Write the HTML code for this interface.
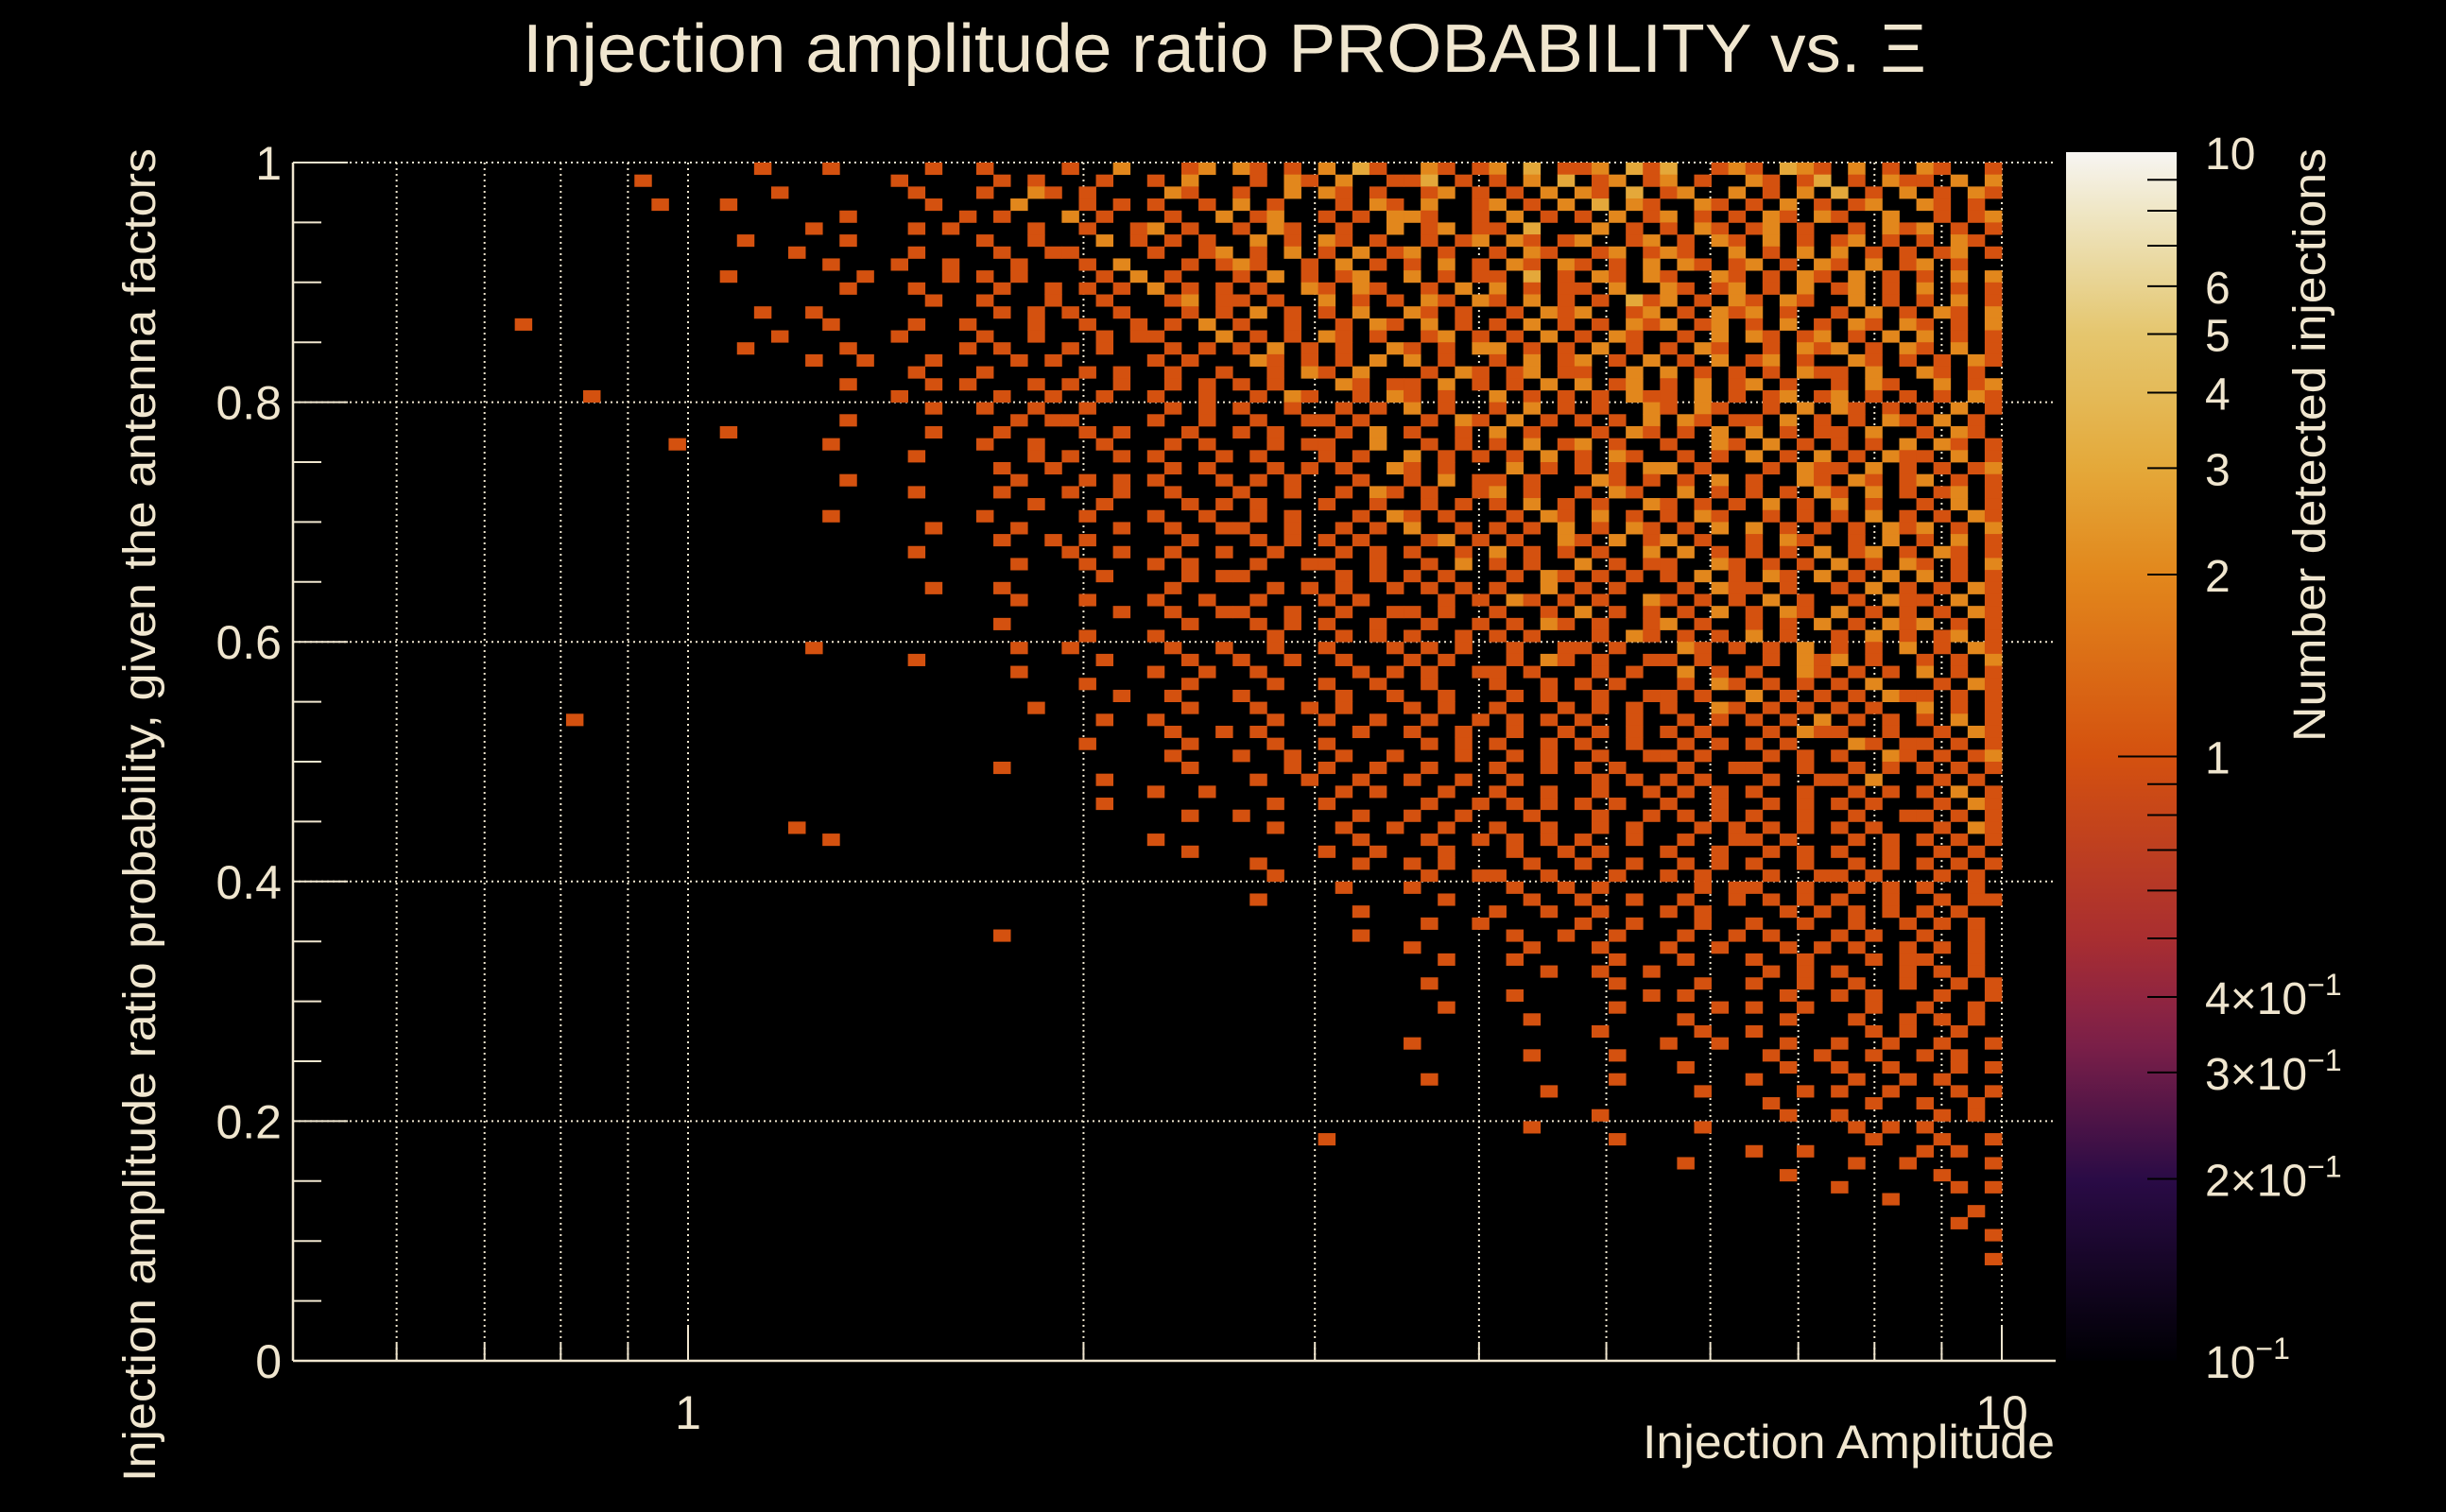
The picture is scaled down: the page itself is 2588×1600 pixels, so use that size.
<!DOCTYPE html>
<html><head><meta charset="utf-8"><title>Injection amplitude ratio PROBABILITY vs. Ξ</title>
<style>
html,body{margin:0;padding:0;background:#000;}
svg{display:block;}
text{font-family:"Liberation Sans",sans-serif;fill:#f0e6cf;}
</style></head>
<body>
<svg id="chart" width="2588" height="1600" viewBox="0 0 2588 1600" xmlns="http://www.w3.org/2000/svg">
<defs>
<linearGradient id="cbgrad" x1="0" y1="1" x2="0" y2="0">
<stop offset="0" stop-color="#000004"/>
<stop offset="0.15" stop-color="#2a0b46"/>
<stop offset="0.26" stop-color="#7a1f48"/>
<stop offset="0.30" stop-color="#902540"/>
<stop offset="0.35" stop-color="#a92e30"/>
<stop offset="0.5" stop-color="#d4510f"/>
<stop offset="0.65" stop-color="#e2871c"/>
<stop offset="0.74" stop-color="#e4a93a"/>
<stop offset="0.80" stop-color="#e4ba58"/>
<stop offset="0.85" stop-color="#e5c66e"/>
<stop offset="0.89" stop-color="#e8d391"/>
<stop offset="0.95" stop-color="#efe6c4"/>
<stop offset="1" stop-color="#f7f5f2"/>
</linearGradient>
</defs>
<text x="553" y="76" font-size="72" textLength="1485" lengthAdjust="spacingAndGlyphs">Injection amplitude ratio PROBABILITY vs.  Ξ</text>
<g id="grid"></g>
<g id="cells"></g>
<g id="axes"></g>
<g id="colorbar"></g>
<text x="2174" y="1543" font-size="50" text-anchor="end" textLength="436" lengthAdjust="spacingAndGlyphs">Injection Amplitude</text>
<text transform="translate(164,157) rotate(-90)" font-size="48" text-anchor="end" textLength="1411" lengthAdjust="spacingAndGlyphs">Injection amplitude ratio probability, given the antenna factors</text>
<text transform="translate(2460,157) rotate(-90)" font-size="48" text-anchor="end" textLength="628" lengthAdjust="spacingAndGlyphs">Number detected injections</text>
</svg>
<script>
// ---- data ----
const xMin = 0.5, xMax = 10, nX = 100;
const yMin = 0, yMax = 1, nY = 100;
const xTickValues = [1, 10];
const xTickLabels = ["1", "10"];
const xMinorValues = [0.6, 0.7, 0.8, 0.9, 2, 3, 4, 5, 6, 7, 8, 9];
const yTickValues = [0, 0.2, 0.4, 0.6, 0.8, 1];
const yTickLabels = ["0", "0.2", "0.4", "0.6", "0.8", "1"];
const cbTickValues = [0.1, 0.2, 0.3, 0.4, 1, 2, 3, 4, 5, 6, 10];
const cbTickLabels = ["10", "2\u00d710", "3\u00d710", "4\u00d710", "1", "2", "3", "4", "5", "6", "10"];
const cbMinorValues = [0.2,0.3,0.4,0.5,0.6,0.7,0.8,0.9,2,3,4,5,6,7,8,9];
// counts per bin, row 0 = top (y 0.99-1.00), column 0 = x 0.5
const countRows = [
"..... ..... ..... ..... ..... ..1.. .1... ..1.. 1.... 1..2. ..12. 21.1. 2.31. .21.1 2.3.1 12.31 3..12 1.321 .2.1. 21..1",
"..... ..... ..... ..... 1.... ..... ..... 1.... .1.1. ..1.. 1.2.. .1.21 .2..1 13.1. 1.2.3 .12.1 2.1.. 21.13 .1.21 1.2.2",
"..... ..... ..... ..... ..... ...1. ..... .1... 1..21 .1... .21.. 1..2. 21.1. .12.1 .1.2. 21.3. 12..2 .1.2. 3.1.2 .1.21",
"..... ..... ..... ..... .1... 1.... ..... ..1.. ..2.. .1.1. 1..1. 2.1.. .1.21 .2..1 2.1.2 .3.21 ..21. 1.2.1 .12.. 21.1.",
"..... ..... ..... ..... ..... ..... ..1.. ....1 .1... 2.1.. .1..2 .12.. 1.1.2 21..1 .2.1. 1.2.1 2.1.1 .21.2 1..2. .1.12",
"..... ..... ..... ..... ..... ..... 1.... .1.1. ...1. .1..1 2.1.. 1.21. .1..2 .12.1 1.3.. .2.1. 1.21. 12.1. .1.21 2.1.1",
"..... ..... ..... ..... ..... .1... ..1.. ..... 1..1. ..2.1 .1.1. .2.1. 21.1. .1.12 .21.1 2..12 .1.21 .2.1. 12.1. 1.21.",
"..... ..... ..... ..... ..... ....1 ..... .1... .1..1 1.... 1..12 .1.2. 1.2.1 2.1.. 1.21. .12.1 21..2 .1.2. 2.1.1 .12.1",
"..... ..... ..... ..... ..... ..... .1... 1..1. ..1.. .1.2. ..1.1 21..1 .2.1. 1.2.1 .21.2 1.1.2 .21.1 2.1.2 1.2.1 2.1..",
"..... ..... ..... ..... ..... 1.... ...1. ...1. 1.1.. ..1.2 .1... 1.2.1 .12.. 2.1.1 1.3.1 .21.2 1..21 .1.21 .2.1. 1.2.2",
"..... ..... ..... ..... ..... ..... ..1.. .1... .1..1 .1.1. 2.1.1 .1..2 1.21. .1.2. 2.1.1 1.2.. 21.12 .1.2. 12.1. 2.1.1",
"..... ..... ..... ..... ..... ..... ..... ..1.. 1...1 ..1.. .12.1 1.1.. 2.1.1 .21.2 1.2.1 .1.31 2.1.2 1.21. .2.1. 1.2.1",
"..... ..... ..... ..... ..... ..1.. 1.... ..... .1.1. 1..1. ..1.1 .2.1. 1.2.. 21.1. .1.21 2..12 .1.21 2.1.. 1.2.1 .21.2",
"..... ..... ...1. ..... ..... ..... .1... .1..1 ...1. .1..1 .1.2. 1..1. .1.21 .2.1. 1.2.1 .1.21 2.12. 1.2.1 .21.2 1.1.2",
"..... ..... ..... ..... ..... ...1. ..... 1.... 1..1. ..1.1 1...2 .1.1. 21.1. .12.1 .1.2. 1.21. .1.2. 21.12 .1.2. 2.1.1",
"..... ..... ..... ..... ..... .1... ..1.. ....1 .1... 1.1.. .1.1. 1.2.1 .1..2 1.1.2 2.1.1 .2.1. 1.21. .1.21 2.1.2 1.2.1",
"..... ..... ..... ..... ..... ..... 1..1. ..1.. ..1.1 ..... 1.1.. .21.1 .1.2. 2.1.. 1.2.1 2.1.2 .1.2. 12.1. .21.1 .1.21",
"..... ..... ..... ..... ..... ..... ..... .1... 1.... .1.1. .1..1 ..1.2 1.2.. .1.21 .12.1 1..2. 2.1.1 .1.21 1.2.. 21.1.",
"..... ..... ..... ..... ..... ..... ..1.. ..1.1 ...1. 1..1. .1.1. 1.1.. .21.1 1.2.1 .1.2. 2.12. 1.2.1 2.1.. 1.21. .2.12",
"..... ..... ..... ..1.. ..... ..... ..... 1.... .1..1 ..1.. 1..1. .1.21 ..1.2 1.1.. 2.1.1 .1.21 1.2.1 .12.1 2.1.1 .1.21",
"..... ..... ..... ..... ..... ..... ..... ..1.. 1..1. .1... .1.1. 1..1. .1.1. 2.1.. 1.2.1 .1..2 1.21. .1.2. 21.1. 1.2.1",
"..... ..... ..... ..... ..... ..... ..1.. ..... ..1.1 1.... 1..1. .1..1 1.1.. .1.21 .2.1. 1.1.2 .21.1 1.2.1 .1.21 .2.1.",
"..... ..... ..... ..... ..... 1.... ..... ..1.. .1... .1.1. ..1.. 1.1.. .1.2. 1..1. 2.1.. .1.21 .1.2. 2.1.1 1.2.. 1.21.",
"..... ..... ..... ..... ..1.. ..... .1... ..... 1..1. ..1.. .1.1. ..1.1 1..2. .1.1. 1.2.1 2.1.. 1..21 .2.1. 1.1.2 .21.1",
"..... ..... ..... ..... ..... ..... ..... .1... ...1. 1..1. 1...1 .1... 1.1.. 2.1.1 .1.2. 1.21. .1.1. 2.1.2 .1.21 1.2.1",
"..... ..... ..... ..... ..... ..... ..... ..... .1..1 ..... .1.1. ..1.1 .1..2 1.1.. .2.1. 1.1.2 2.1.. .1.21 1.2.1 .1.12",
"..... ..... ..... ..... ..... ..... ..1.. ..... ..1.. .1.1. 1...1 .1.1. ..1.. 1.2.1 1.1.. .21.1 .1.2. 1..21 .21.1 2.1.1",
"..... ..... ..... ..... ..... ..... ..... .1... .1... 1..1. .1... 1..1. .1.21 .1..1 2.1.. 1.21. .2.1. 1.1.2 1.2.1 .12.1",
"..... ..... ..... ..... ..... ..... ..... ..... ...1. ..1.. ..1.1 .1... 1..1. .1.1. 1.2.1 .1..2 1.1.1 .2.1. 2.1.. 1.2.1",
"..... ..... ..... ..... ..... ..... .1... ..... 1.... .1... 1..1. .1.1. ..1.2 1.1.. .1.21 .2.1. 1.21. .1.1. 1.2.1 .1.21",
"..... ..... ..... ..... ..... ..... ..... ..1.. ..1.. ...1. .1..1 1..1. .1.1. 2..1. 1.1.2 .1.21 .1.2. 2.1.1 .1.21 2.1.2",
"..... ..... ..... ..... ..... ..... ..... ..... .1..1 .1... ..1.. .1.1. 1.1.. .12.1 .1..2 1.2.1 2.1.. 1.21. .1.2. 1.2.1",
"..... ..... ..... ..... ..... ..... ..... .1... ..... 1..1. .1..1 ..1.. .1.1. 1..1. 2.1.1 .1..2 .2.1. 1.1.2 .12.1 .21.1",
"..... ..... ..... ..... ..... ..... ..... ..... ..1.. .1... 1.1.. .1..1 1..1. .1.2. 1.1.. 2.1.1 1..21 .1.1. 2.1.2 1.1.2",
"..... ..... ..... ..... ..... ..... ..... ..... ..... ..1.. ..1.1 1.... .1.1. 1.1.. .1.21 .1.1. 1.2.1 .21.2 .1.2. 2.1.1",
"..... ..... ..... ..... ..... ..... ..... ..1.. .1... ..... .1... ..1.1 .1..1 .1.1. 1..2. 1.1.. .1.21 1.1.. 1.2.1 .1.21",
"..... ..... ..... ..... ..... ..... ..... ..... ..1.. .1... 1..1. .1... 1.1.. ..1.1 .21.1 .1..2 1.1.1 .2.1. .1.21 1.2.1",
"..... ..... ..... ..... ..... ..... ..... ..... ..... ...1. .1..1 1..1. .1..1 1.1.. 1..1. 2.1.1 .1.2. 1.21. 2.1.1 .1.21",
"..... ..... ..... ..... ..... ..... ..... ..... .1... ..... ..1.. .1.1. 1..1. .1..1 .1.21 .1..1 2.1.. 1.1.2 .1.21 2.1.1",
"..... ..... ..... ..... ..... ..... ..... ..... ..... .1... 1.... ..1.. .1.1. 1..1. 1.1.. .1.21 .1.1. 2.1.. 1.2.1 .12.1",
"..... ..... ..... ..... ..... ..... 1.... ..... ..1.. 1.... .1..1 ..1.. 1...1 .1.1. .1..1 1.1.. .21.1 .1.2. 1.1.2 .1.21",
"..... ..... ..... ..... ..... ..... ..... .1... ..... ..1.. ..1.. 1..1. .1... 1.1.. .1.21 .1..1 1.1.. .1.21 2.1.. 1.1.2",
"..... ..... ..... ..... ..... ..... ..... ..... ..1.. ..... 1..1. .1... ..1.1 .1..1 1.1.. .1.1. .2.1. 1..21 .1.1. 2.1.1",
"..... ..... ..... ..... ..... ..... ..... ..... ..... .1... ..1.. ..1.. 1..1. .1... 1..1. 1.1.. .1.21 .1.1. 1.2.. .1.21",
"..... ..... ..... ..... ..... ..... ..... ..... ..... ...1. .1... 1.... .1..1 ..1.. .1.1. .1..1 1.1.. 2.1.1 .1.21 1.1.1",
"..... ..... ..... ..... ..... ..... ..... ..... ...1. ..... ..1.. .1..1 .1... 1.1.. 1...1 .1.1. 1..21 .1.1. 1.1.. 2.1.1",
"..... ..... ..... .1... ..... ..... ..... ..... ..... ..1.. 1.... ..1.. 1..1. .1..1 .1.1. 1..1. .1.1. 1.1.2 .1.1. 1.2.1",
"..... ..... ..... ..... ..... ..... ..... ..... ..... ..... .1..1 .1... ..1.. 1..1. .1..1 .1.1. 1.1.. .1.21 1..1. .1.21",
"..... ..... ..... ..... ..... ..... ..... ..... ..... .1... ..1.. ..1.. 1.... .1.1. 1..1. 1..1. .1.1. 1.1.. .21.1 1.1.1",
"..... ..... ..... ..... ..... ..... ..... ..... ..... ..... .1... 1..1. .1..1 ...1. .1.1. .1..1 1.1.. .1.1. 1..21 .1.12",
"..... ..... ..... ..... ..... ..... ..... ..... .1... ..... ..1.. ...1. 1..1. .1... 1..1. 1.1.. .1..1 1..1. .1.1. 1.1.1",
"..... ..... ..... ..... ..... ..... ..... ..... ..... ..1.. ..... .1..1 ..1.. 1..1. .1... .1.1. 1.1.. .1..1 1.2.. .1.1.",
"..... ..... ..... ..... ..... ..... ..... ..... ..... ..... 1..1. ..... .1.1. ..1.. 1..1. .1..1 .1.1. 1..1. .1.1. 1.2.1",
"..... ..... ..... ..... ..... ..... ..... ..... ..... ..1.. ..... ..1.. 1.... .1..1 .1.1. 1.1.. 1..1. .1.1. 1.1.. .1.21",
"..... ..... ..... ..... ..... ..... ..... ..... ..... ..... ..1.. 1.... ..1.. 1..1. ..1.. .1..1 .1.1. 1..1. .1..1 1.1.1",
"..... ..... ..... ..... ..... ....1 ..... ..... ..... ..... ..... ..1.. .1..1 ..1.. 1..1. .1.1. ..1.1 .1.1. 1.1.. .1.21",
"..... ..... ..... ..... ..... ..... .1... ..... ..... ..... 1.... ..... ..1.. .1..1 .1.1. 1..1. .1..1 1.1.. .1.1. 1.1.1",
"..... ..... ..... ..... ..... ..... ..... ..... ..... ..... ..1.. ..... 1..1. ..1.. .1..1 .1... 1..1. .1.1. 1..1. .1.1.",
"..... ..... ..... ..... ..... ..... ..... ..... ..... ..... ..... .1... ..1.. 1.1.. ..1.. 1..1. .1.1. 1..1. .1.1. 1.1.1",
"..... ..... ..... ..... ..... ..... ..... ..... ..... ..... ..... ..1.. ..... .1..1 1..1. ..1.. 1.1.. .1..1 1.1.. .1.1.",
"..... ..... ..... ..... ..... ..... ..... ..... ..... ..... ..... ..... .1... 1.... .1..1 .1... ..1.1 1..1. .1.1. 1..1.",
"..... ..... ..... ..... ..... ..... ..... ..... ..... ..... ..... .1... ..... ..1.. ..1.. 1..1. .1..1 .1.1. 1..1. .1.11",
"..... ..... ..... ..... ..... ..... ..... ..... ..... ..... ..... ..... ..1.. ..... 1..1. .1... 1.1.. ..1.1 .1.1. 1.1..",
"..... ..... ..... ..... ..... ..... ..... ..... ..... ..... ..... ..... ..... .1..1 ..... 1..1. ..1.. 1..1. .1..1 .1.1.",
"..... ..... ..... ..... ..... ..... ..... ..... .1... ..... ..... ..... ..1.. ..... .1..1 ..1.. .1..1 .1... 1.1.. 1..1.",
"..... ..... ..... ..... ..... ..... ..... ..... ..... ..... ..... ..... ..... 1.... ..1.. .1... 1..1. ..1.1 .1..1 .1.1.",
"..... ..... ..... ..... ..... ..... ..... ..... ..... ..... ..... ..... ..... ..1.. .1... ..1.. .1... 1..1. ..1.1 1..1.",
"..... ..... ..... ..... ..... ..... ..... ..... ..... ..... ..... ..... ..... ..... ...1. .1..1 ..... .1.1. 1...1 .1.1.",
"..... ..... ..... ..... ..... ..... ..... ..... ..... ..... ..... ..... ..... .1... ..... ..1.. ..1.. 1..1. .1..1 ..1.1",
"..... ..... ..... ..... ..... ..... ..... ..... ..... ..... ..... ..... ..... ..... .1... ....1 .1... ..1.. 1.1.. .1..1",
"..... ..... ..... ..... ..... ..... ..... ..... ..... ..... ..... ..... ..... ..1.. ..... ..1.. ...1. 1..1. ..1.. 1..1.",
"..... ..... ..... ..... ..... ..... ..... ..... ..... ..... ..... ..... ..... ..... ..1.. ..... .1... ..1.. .1..1 .1.1.",
"..... ..... ..... ..... ..... ..... ..... ..... ..... ..... ..... ..... ..... ..... ..... .1... ..1.. 1.... ..1.1 ..1..",
"..... ..... ..... ..... ..... ..... ..... ..... ..... ..... ..... ..... ..... 1.... ..... ..... 1..1. ..1.. 1..1. .1..1",
"..... ..... ..... ..... ..... ..... ..... ..... ..... ..... ..... ..... ..... ..... ..1.. ..1.. ..... .1..1 ..1.. 1.1..",
"..... ..... ..... ..... ..... ..... ..... ..... ..... ..... ..... ..... ..... ..... ..... ..... .1... ..1.. 1..1. ..1.1",
"..... ..... ..... ..... ..... ..... ..... ..... ..... ..... ..... ..... ..... .1... ..... ..1.. ..... 1.... .1..1 .1...",
"..... ..... ..... ..... ..... ..... ..... ..... ..... ..... ..... ..... ..... ..... ...1. ..... ..1.. ...1. 1..1. ..1.1",
"..... ..... ..... ..... ..... ..... ..... ..... ..... ..... ..... ..... ..... ..... ..... ..... ..... .1... ..1.. 1..1.",
"..... ..... ..... ..... ..... ..... ..... ..... ..... ..... ..... ..... ..... ..... ..... .1... ..... ..1.. 1.... .1.1.",
"..... ..... ..... ..... ..... ..... ..... ..... ..... ..... ..... ..... ..... ..... ..1.. ..... ..1.. ..... .1.1. 1....",
"..... ..... ..... ..... ..... ..... ..... ..... ..... ..... ..... ..... 1.... ..... ..... ..1.. ..... ..... ..1.. .1..1",
"..... ..... ..... ..... ..... ..... ..... ..... ..... ..... ..... ..... ..... ..... ..... ..... ..... 1..1. ..... 1.1..",
"..... ..... ..... ..... ..... ..... ..... ..... ..... ..... ..... ..... ..... ..... ..... ..... .1... ..... .1..1 ....1",
"..... ..... ..... ..... ..... ..... ..... ..... ..... ..... ..... ..... ..... ..... ..... ..... ..... ..1.. ..... .1...",
"..... ..... ..... ..... ..... ..... ..... ..... ..... ..... ..... ..... ..... ..... ..... ..... ..... ..... 1.... ..1.1",
"..... ..... ..... ..... ..... ..... ..... ..... ..... ..... ..... ..... ..... ..... ..... ..... ..... ..... ...1. .....",
"..... ..... ..... ..... ..... ..... ..... ..... ..... ..... ..... ..... ..... ..... ..... ..... ..... ..... ..... ...1.",
"..... ..... ..... ..... ..... ..... ..... ..... ..... ..... ..... ..... ..... ..... ..... ..... ..... ..... ..... ..1..",
"..... ..... ..... ..... ..... ..... ..... ..... ..... ..... ..... ..... ..... ..... ..... ..... ..... ..... ..... ....1",
"..... ..... ..... ..... ..... ..... ..... ..... ..... ..... ..... ..... ..... ..... ..... ..... ..... ..... ..... .....",
"..... ..... ..... ..... ..... ..... ..... ..... ..... ..... ..... ..... ..... ..... ..... ..... ..... ..... ..... ....1",
"..... ..... ..... ..... ..... ..... ..... ..... ..... ..... ..... ..... ..... ..... ..... ..... ..... ..... ..... .....",
"..... ..... ..... ..... ..... ..... ..... ..... ..... ..... ..... ..... ..... ..... ..... ..... ..... ..... ..... .....",
"..... ..... ..... ..... ..... ..... ..... ..... ..... ..... ..... ..... ..... ..... ..... ..... ..... ..... ..... .....",
"..... ..... ..... ..... ..... ..... ..... ..... ..... ..... ..... ..... ..... ..... ..... ..... ..... ..... ..... .....",
"..... ..... ..... ..... ..... ..... ..... ..... ..... ..... ..... ..... ..... ..... ..... ..... ..... ..... ..... .....",
"..... ..... ..... ..... ..... ..... ..... ..... ..... ..... ..... ..... ..... ..... ..... ..... ..... ..... ..... .....",
"..... ..... ..... ..... ..... ..... ..... ..... ..... ..... ..... ..... ..... ..... ..... ..... ..... ..... ..... .....",
"..... ..... ..... ..... ..... ..... ..... ..... ..... ..... ..... ..... ..... ..... ..... ..... ..... ..... ..... ....."
];

// ---- axis functions ----
const NS = "http://www.w3.org/2000/svg";
const plotL = 310, plotR = 2175, plotT = 172, plotB = 1440;
const decadePx = 1390, xOne = 728;
function xScale(v){ return xOne + decadePx * Math.log10(v); }
function yScale(v){ return plotB - (plotB - plotT) * (v - yMin) / (yMax - yMin); }
const cbL = 2186, cbR = 2303, cbT = 161, cbB = 1440;
function cbScale(v){ return cbB - (cbB - cbT) * (Math.log10(v) + 1) / 2; }
const stops = [[0,[0,0,4]],[0.15,[42,11,70]],[0.26,[122,31,72]],[0.30,[144,37,64]],[0.35,[169,46,48]],[0.5,[212,81,15]],[0.65,[226,135,28]],[0.74,[228,169,58]],[0.80,[228,186,88]],[0.85,[229,198,110]],[0.89,[232,211,145]],[0.95,[239,230,196]],[1,[247,245,242]]];
function colorFor(v){
  let t = (Math.log10(v) + 1) / 2; t = Math.max(0, Math.min(1, t));
  for (let i = 1; i < stops.length; i++){
    if (t <= stops[i][0]){
      const a = stops[i-1], b = stops[i], f = (t - a[0]) / (b[0] - a[0]);
      const c = a[1].map((x, k) => Math.round(x + (b[1][k] - x) * f));
      return "rgb(" + c.join(",") + ")";
    }
  }
  return "rgb(247,245,242)";
}
function mk(tag, attrs, parent){
  const e = document.createElementNS(NS, tag);
  for (const k in attrs) e.setAttribute(k, attrs[k]);
  parent.appendChild(e); return e;
}
const gridG = document.getElementById("grid");
const cellsG = document.getElementById("cells");
const axesG = document.getElementById("axes");
const cbG = document.getElementById("colorbar");
const ink = "#f0e6cf";

// grid
xMinorValues.concat(xTickValues).forEach(v => {
  const x = xScale(v);
  const l = mk("line", {x1:x, x2:x, y1:plotT, y2:plotB, stroke:ink, "stroke-width":2, "stroke-dasharray":"2 4"}, gridG);
  
  
});
yTickValues.forEach(v => {
  if (v === 0) return;
  const y = yScale(v);
  const l = mk("line", {x1:plotL, x2:plotR, y1:y, y2:y, stroke:ink, "stroke-width":2, "stroke-dasharray":"2 4"}, gridG);
  
  
});

// cells
const logSpan = Math.log10(xMax / xMin);
countRows.forEach((rowStr, r) => {
  const row = rowStr.replace(/ /g, "");
  const yTopVal = yMax - r * (yMax - yMin) / nY;
  const yBotVal = yTopVal - (yMax - yMin) / nY;
  for (let c = 0; c < row.length; c++){
    const ch = row[c];
    if (ch === ".") continue;
    const val = parseInt(ch, 10);
    const x0 = xScale(xMin * Math.pow(10, logSpan * c / nX));
    const x1 = xScale(xMin * Math.pow(10, logSpan * (c + 1) / nX));
    const y0 = yScale(yTopVal), y1 = yScale(yBotVal);
    const rect = mk("rect", {x:x0, y:y0, width:x1 - x0 + 0.4, height:y1 - y0 + 0.4, fill:colorFor(val)}, cellsG);
    
    
  }
});

// axes lines
let ax = mk("line", {x1:plotL, x2:plotR, y1:plotB, y2:plotB, stroke:ink, "stroke-width":2.5}, axesG);


ax = mk("line", {x1:plotL, x2:plotL, y1:plotT, y2:plotB, stroke:ink, "stroke-width":2.5}, axesG);



// x ticks
xMinorValues.forEach(v => {
  const x = xScale(v);
  const t = mk("line", {x1:x, x2:x, y1:plotB, y2:plotB - 18, stroke:ink, "stroke-width":2}, axesG);
  
  
});
xTickValues.forEach((v, i) => {
  const x = xScale(v);
  const t = mk("line", {x1:x, x2:x, y1:plotB, y2:plotB - 36, stroke:ink, "stroke-width":2}, axesG);
  
  
  const lb = mk("text", {x:x, y:1512, "font-size":50, "text-anchor":"middle"}, axesG);
  lb.textContent = xTickLabels[i];
  
  
});
// y ticks
for (let k = 0; k <= 20; k++){
  const v = k * 0.05;
  const major = (k % 4 === 0);
  const y = yScale(v);
  const t = mk("line", {x1:plotL, x2:plotL + (major ? 58 : 30), y1:y, y2:y, stroke:ink, "stroke-width":2}, axesG);
  
  
}
yTickValues.forEach((v, i) => {
  const lb = mk("text", {x:298, y:yScale(v) + 18, "font-size":50, "text-anchor":"end"}, axesG);
  lb.textContent = yTickLabels[i];
  
  
});

// colorbar
const bar = mk("rect", {x:cbL, y:cbT, width:cbR - cbL, height:cbB - cbT, fill:"url(#cbgrad)"}, cbG);


cbMinorValues.forEach(v => {
  const y = cbScale(v);
  const t = mk("line", {x1:cbR - 31, x2:cbR, y1:y, y2:y, stroke:"#000", "stroke-width":2}, cbG);
  
  
});
const t1 = mk("line", {x1:cbR - 62, x2:cbR, y1:cbScale(1), y2:cbScale(1), stroke:"#000", "stroke-width":2}, cbG);


cbTickValues.forEach((v, i) => {
  const y = cbScale(v);
  const lb = mk("text", {x:2333, y:y + 18, "font-size":48}, cbG);
  
  
  if (v < 1){
    lb.textContent = cbTickLabels[i];
    const sup = document.createElementNS(NS, "tspan");
    sup.setAttribute("dy", "-20");
    sup.setAttribute("font-size", "32");
    sup.textContent = "\u22121";
    lb.appendChild(sup);
  } else {
    lb.textContent = cbTickLabels[i];
  }
});
</script>
</body></html>
